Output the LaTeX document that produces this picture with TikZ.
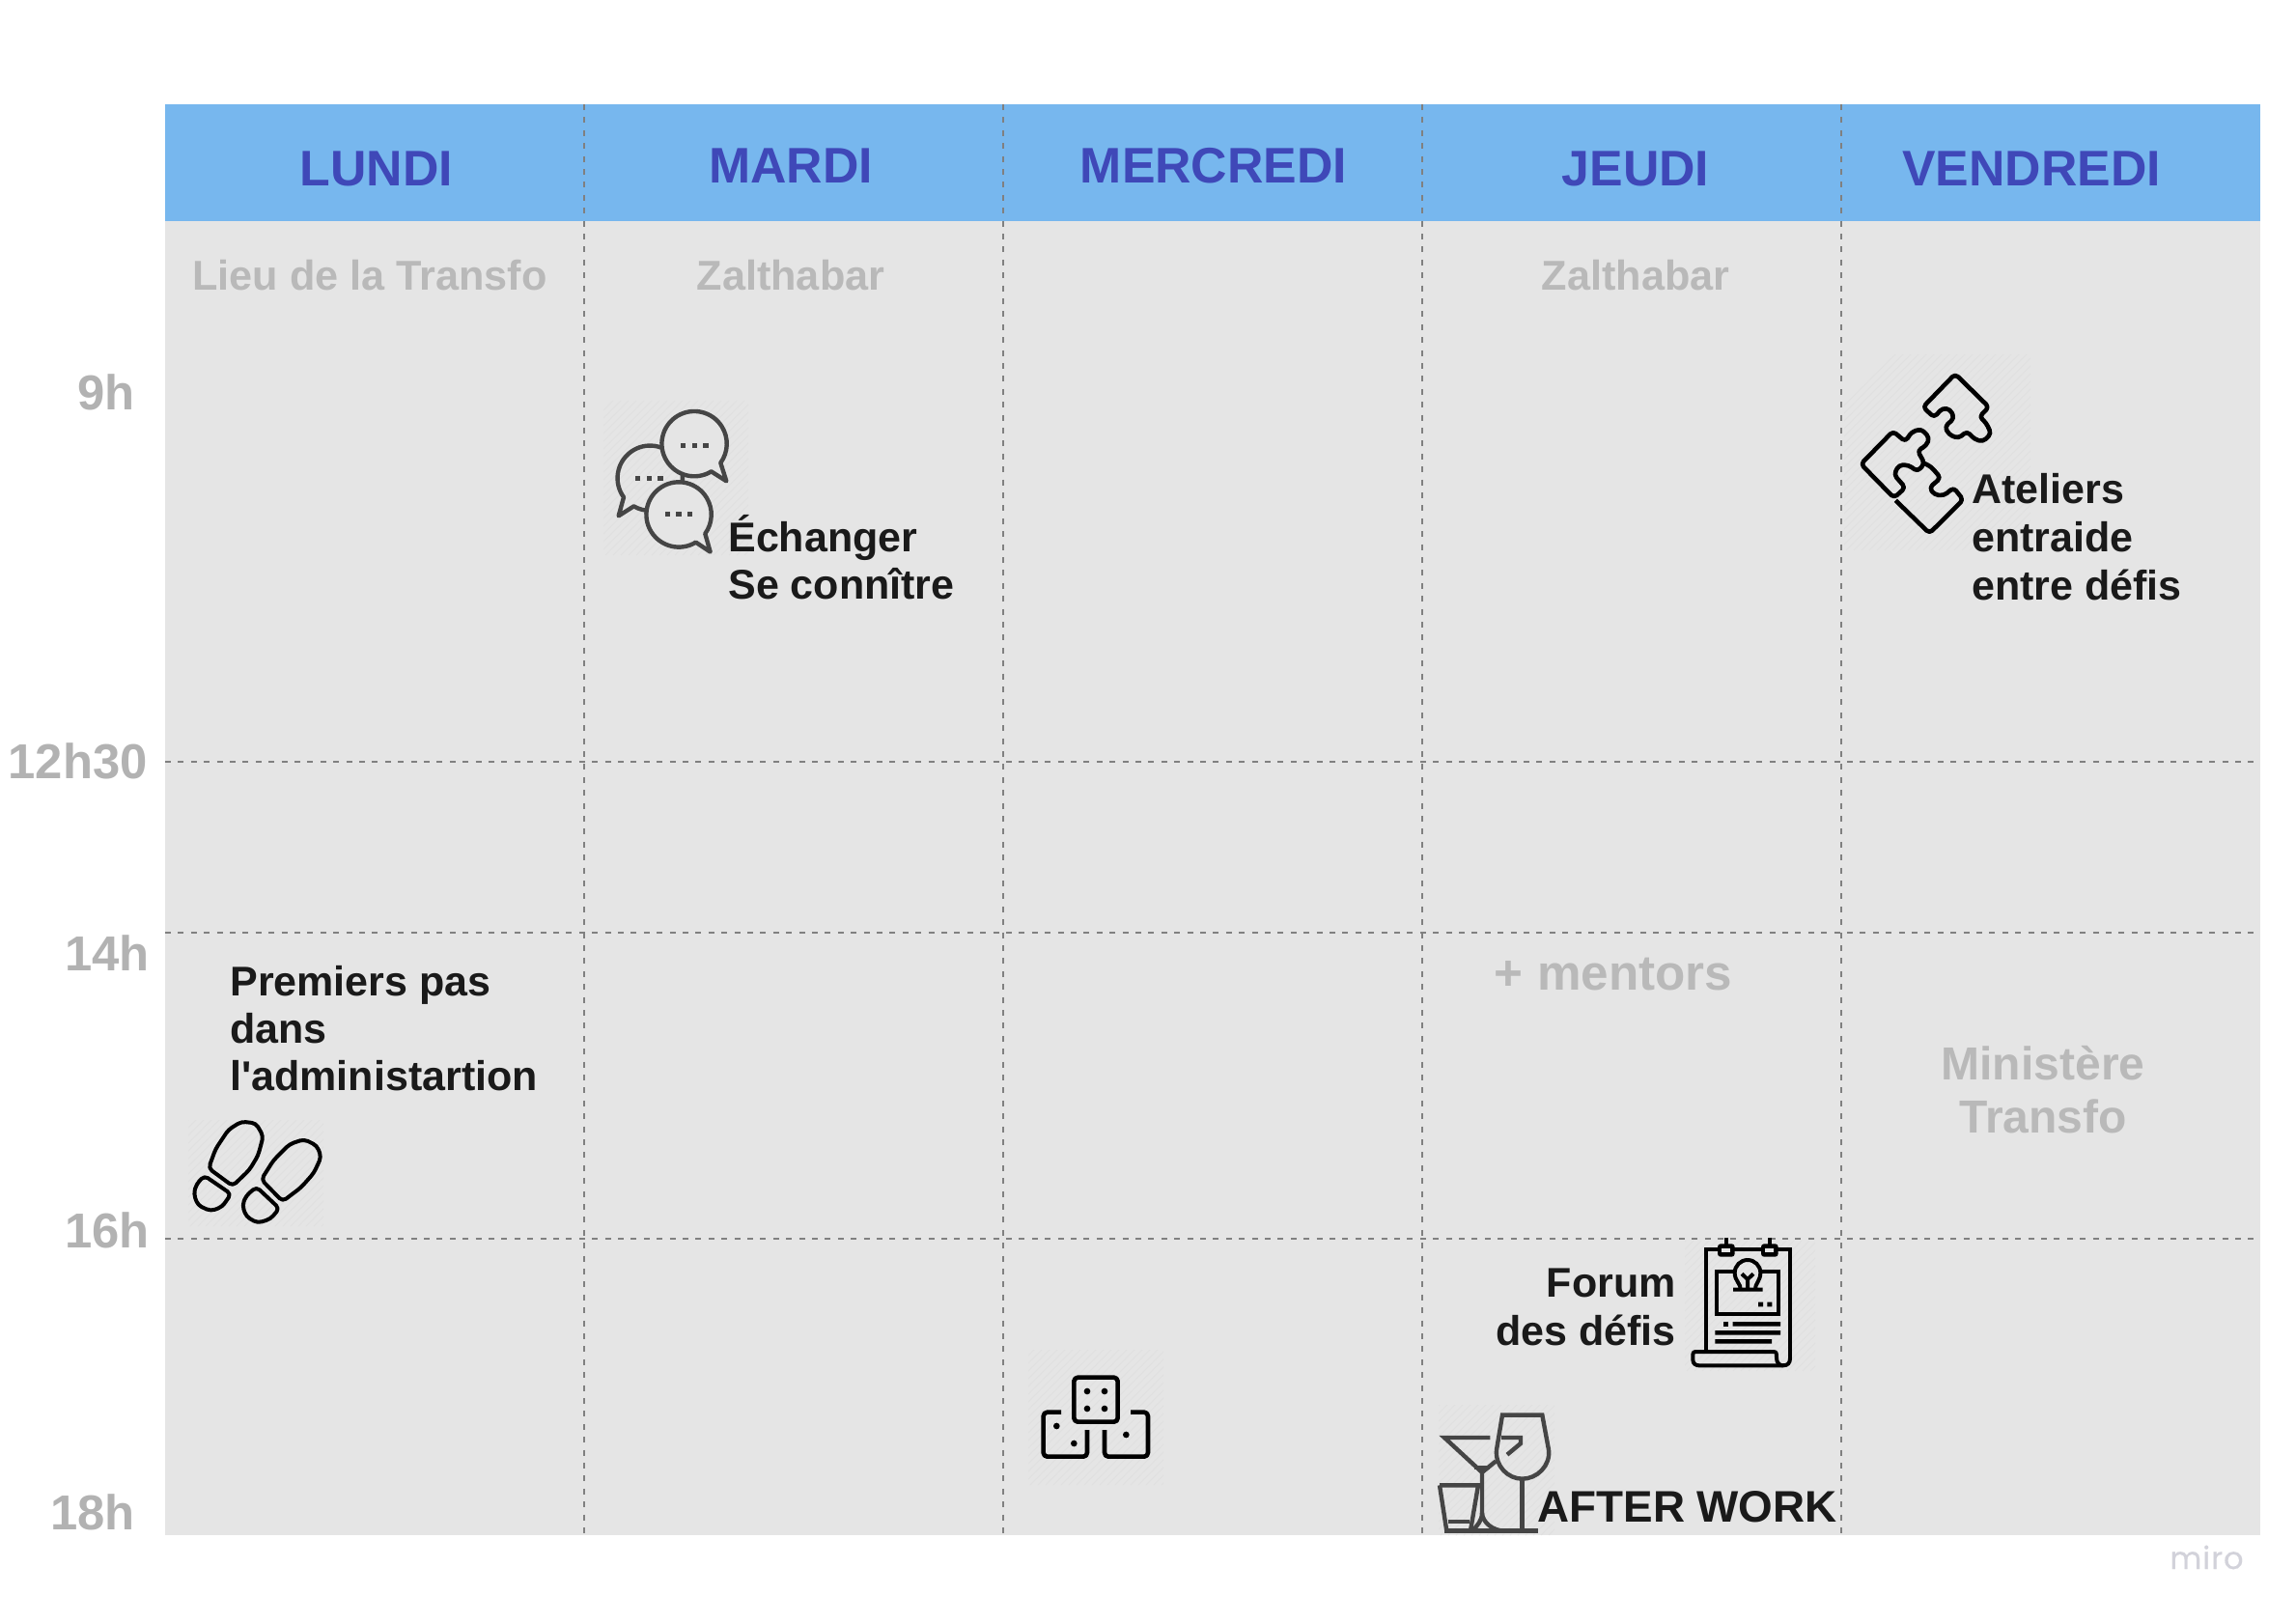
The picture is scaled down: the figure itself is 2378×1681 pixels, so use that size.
\documentclass[tikz,border=0pt]{standalone}
\usepackage{fontspec}
\setmainfont{Liberation Sans}
\newfontfamily\straightfont{Liberation Sans}
\newfontfamily\mirofont[LetterSpace=3,FakeBold=0.4]{Poppins}
\definecolor{hdr}{HTML}{77B7EE}
\definecolor{pane}{HTML}{E5E5E5}
\definecolor{hatch}{HTML}{E0E0E0}
\definecolor{dayc}{HTML}{3F48B8}
\definecolor{soft}{HTML}{B9B9B9}
\definecolor{hourc}{HTML}{B2B2B2}
\definecolor{ink}{HTML}{1A1A1A}
\definecolor{dark}{HTML}{454545}
\definecolor{miroc}{HTML}{D2D2DA}
\tikzset{
  x=0.5pt,y=-0.5pt,
  daylab/.style={anchor=base,inner sep=0,text=dayc,font=\bfseries\fontsize{25.9}{30}\selectfont},
  softlab/.style={inner sep=0,text=soft,font=\bfseries\fontsize{21.6}{24.5}\selectfont},
  softbig/.style={inner sep=0,text=soft,align=center,font=\bfseries\fontsize{24}{27.5}\selectfont},
  hourlab/.style={anchor=base east,inner sep=0,text=hourc,font=\bfseries\fontsize{25.4}{30}\selectfont},
  actlab/.style={inner sep=0,text=ink,font=\bfseries\fontsize{21.5}{24.5}\selectfont},
  gridline/.style={draw=black!50,line width=0.7pt,dash pattern=on 3pt off 3.7pt},
  icon/.style={line width=2.3pt,line join=round,rounded corners=2pt},
  iconthin/.style={line width=2pt,line join=round,rounded corners=2.2pt},
  sharp/.style={line width=2pt,line join=miter},
}
\newcommand{\hatchbox}[4]{%
  \begin{scope}
    \clip (#1,#2) rectangle (#3,#4);
    \foreach \k in {0,8,...,600}{\draw[hatch,line width=0.5pt] (#1-150+\k,#4) -- ++(300,-300);}
  \end{scope}}
\begin{document}
\begin{tikzpicture}
\useasboundingbox (0,0) rectangle (2378,1681);
\fill[white] (0,0) rectangle (2378,1681);
\fill[pane] (171,229) rectangle (2341,1590);
\fill[hdr] (171,108) rectangle (2341,229);

% faint icon backgrounds
\hatchbox{625}{415}{775}{575}
\hatchbox{1910}{367}{2103}{570}
\hatchbox{1065}{1398}{1205}{1538}
\hatchbox{1745}{1285}{1880}{1420}
\hatchbox{1490}{1455}{1610}{1590}
\hatchbox{195}{1160}{335}{1270}

% grid
\foreach \xx in {605,1039,1473,1907}{\draw[gridline] (\xx,108) -- (\xx,1590);}
\foreach \yy in {789,966,1283}{\draw[gridline] (171,\yy) -- (2341,\yy);}

% day headers
\node[daylab] (lundi) at (390,192) {LUNDI};
\node[daylab] (mardi) at (819,189) {MARDI};
\node[daylab] (mercredi) at (1257,189) {MERCREDI};
\node[daylab] (jeudi) at (1694,192) {JEUDI};
\node[daylab] (vendredi) at (2104,192) {VENDREDI};

% places
\node[softlab,anchor=base] (lieu) at (383,300) {Lieu de la Transfo};
\node[softlab,anchor=base] (zal1) at (819,300) {Zalthabar};
\node[softlab,anchor=base] (zal2) at (1694,300) {Zalthabar};
\node[softbig,anchor=base,font=\bfseries\fontsize{25.6}{30}\selectfont] (mentors) at (1671,1025) {+ mentors};
\node[softbig,anchor=base] (minist) at (2116,1173) {Ministère\\Transfo};

% hours
\node[hourlab] (h9) at (140,424) {9h};
\node[hourlab] (h12) at (153,806) {12h30};
\node[hourlab] (h14) at (155,1005) {14h};
\node[hourlab] (h16) at (155,1292) {16h};
\node[hourlab] (h18) at (140,1584) {18h};

% activities
\node[actlab,anchor=base west,align=left] (echanger) at (754,620) {Échanger\\Se connître};
\node[actlab,anchor=base west,align=left,font=\bfseries\fontsize{21.5}{25}\selectfont] (ateliers) at (2042,621) {Ateliers\\entraide\\entre défis};
\node[actlab,anchor=base west,align=left] (premiers) at (238,1129) {Premiers pas\\dans\\l{\straightfont\bfseries '}administartion};
\node[actlab,anchor=base east,align=right,font=\bfseries\fontsize{21.5}{25}\selectfont] (forum) at (1736,1393) {Forum\\des défis};
\node[actlab,anchor=base west,font=\bfseries\fontsize{22.9}{27}\selectfont] (after) at (1592,1576) {AFTER WORK};

% chat icon
\begin{scope}[shift={(620,400)},scale=1/3,line width=2.2pt,draw=dark,line join=round]
  \draw (78,345) arc[start angle=144,end angle=480,radius=101] -- (62,403) -- cycle;
  \filldraw[fill=pane] (350,265) arc[start angle=58.5,end angle=396,radius=101] -- (397,295) -- cycle;
  \filldraw[fill=pane] (302,485) arc[start angle=58.5,end angle=396,radius=101] -- (347,515) -- cycle;
  \foreach \a/\b in {263/185,298/185,333/185,122/286,157/286,192/286,214/398,249/398,284/398}{
    \fill[dark] (\a-8,\b-8) rectangle (\a+8,\b+8);}
\end{scope}

% puzzle icon
\begin{scope}[shift={(1900,350)},scale=1/3,black]
  \draw[icon] (375,112) -- (480,215) -- (450,245) -- (470,262) -- (487,297) -- (462,322) -- (435,315) -- (412,290) -- (385,312) -- (355,300) -- (343,275) -- (372,250) -- (360,222) -- (335,218) -- (310,247) -- (275,215) -- cycle;
  \draw[icon] (82,392) -- (182,290) -- (220,322) -- (240,292) -- (270,283) -- (295,310) -- (285,335) -- (258,350) -- (280,390) -- (258,415) -- (230,395) -- (200,395) -- (185,425) -- (220,465) -- (185,497) -- cycle;
  \draw[icon] (190,505) -- (295,607) -- (400,503) -- (370,465) -- (340,490) -- (310,487) -- (295,465) -- (330,435) -- (300,400) -- (280,390);
\end{scope}

% footsteps icon
\begin{scope}[shift={(180,1140)},scale=1/3,black]
  \draw[iconthin] (108,210) -- (130,150) -- (170,90) -- (210,65) -- (255,70) -- (278,110) -- (262,170) -- (235,215) -- (183,265) -- cycle;
  \draw[iconthin] (95,233) -- (178,290) -- (150,330) -- (115,343) -- (75,325) -- (62,290) -- (70,260) -- cycle;
  \draw[iconthin] (272,245) -- (310,185) -- (360,135) -- (405,120) -- (445,140) -- (458,175) -- (435,225) -- (395,270) -- (338,313) -- cycle;
  \draw[iconthin] (257,268) -- (328,335) -- (300,368) -- (260,380) -- (225,360) -- (213,325) -- (225,295) -- cycle;
\end{scope}

% dice icon
\begin{scope}[shift={(1050,1390)},scale=1/3,black]
  \draw[icon] (187,110) rectangle (323,248);
  \draw[icon] (147,218) -- (92,218) -- (92,356) -- (228,356) -- (228,273);
  \draw[icon] (363,218) -- (417,218) -- (417,356) -- (282,356) -- (282,273);
  \foreach \a/\b in {228/153,282/153,228/207,282/207,133/261,187/315,349/288}{
    \fill (\a,\b) circle[radius=10];}
\end{scope}

% poster icon
\begin{scope}[shift={(1740,1270)},scale=1/3,black]
  \draw[sharp] (80,385) -- (80,72) -- (342,72) -- (342,415);
  \draw[sharp] (143,35) -- (143,60) (278,35) -- (278,60);
  \fill[rounded corners=1.5pt] (117,55) rectangle (170,95);
  \fill[rounded corners=1.5pt] (252,55) rectangle (305,95);
  \fill[pane] (130,70) rectangle (156,80);
  \fill[pane] (265,70) rectangle (291,80);
  \draw[sharp] (165,140) -- (114,140) -- (114,272) -- (306,272) -- (306,140) -- (255,140);
  \draw[line width=2pt] (188,197) .. controls (190,180) and (170,170) .. (170,145) arc[start angle=180,end angle=360,radius=40] .. controls (250,170) and (232,180) .. (234,197);
  \draw[line width=2pt] (165,197) -- (257,197) (210,197) -- (210,165) (192,148) -- (210,165) -- (228,148);
  \fill (243,236) rectangle (258,250) (271,236) rectangle (286,250);
  \fill (136,297) rectangle (150,311);
  \fill (164,297) rectangle (312,311) (109,324) rectangle (312,338) (109,351) rectangle (285,365);
  \draw[line width=2pt,line join=round] (75,390) -- (50,390) .. controls (40,390) and (40,395) .. (40,405) -- (40,415) .. controls (40,428) and (50,433) .. (60,433) -- (320,433) .. controls (335,433) and (342,425) .. (342,410);
  \draw[line width=2pt,line join=round] (75,390) -- (290,390) .. controls (300,390) and (300,395) .. (300,410) .. controls (300,425) and (310,433) .. (320,433);
\end{scope}

% glasses icon
\begin{scope}[shift={(1480,1450)},scale=1/3,draw=dark,line width=2.2pt,line join=miter]
  \draw (48,407) -- (338,407);
  \draw (228,47) -- (352,47) -- (372,155) .. controls (378,205) and (335,245) .. (290,245) .. controls (245,245) and (205,205) .. (210,155) -- cycle;
  \draw (290,245) -- (290,407);
  \draw (190,117) -- (48,117) -- (165,225) -- (208,190);
  \draw (225,117) -- (285,117) -- (285,135) -- (243,170);
  \draw (140,210) -- (190,210);
  \draw (165,225) -- (165,350) .. controls (165,380) and (200,407) .. (235,407);
  \draw (165,350) .. controls (165,375) and (150,390) .. (135,407);
  \draw (33,265) -- (153,265) -- (130,400);
  \draw (33,265) -- (55,407);
  \draw (60,378) -- (127,378);
\end{scope}

% watermark
\node[anchor=base west,inner sep=0,text=miroc,font=\mirofont\fontsize{16}{18}\selectfont] (miro) at (2247,1625) {miro};
\end{tikzpicture}
\end{document}
